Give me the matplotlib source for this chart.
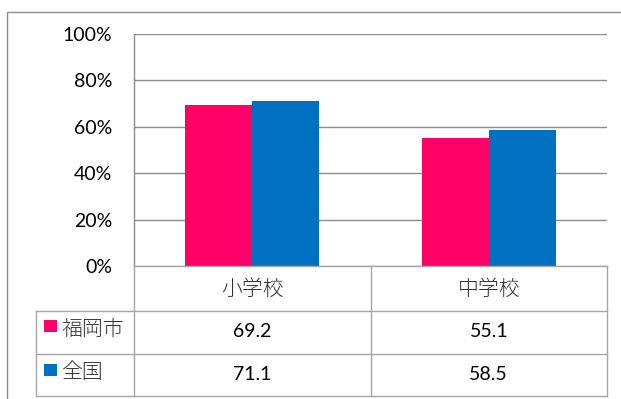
import matplotlib
matplotlib.use("Agg")
import matplotlib.pyplot as plt
from matplotlib.lines import Line2D
from matplotlib.patches import Rectangle
import numpy as np

categories = ["小学校", "中学校"]
series_names = ["福岡市", "全国"]
fukuoka = [69.2, 55.1]
national = [71.1, 58.5]
yticks = [0, 20, 40, 60, 80, 100]
ytick_labels = ["0%", "20%", "40%", "60%", "80%", "100%"]
colors = ["#FF0066", "#0070C0"]

W, H = 621, 399
fig = plt.figure(figsize=(W / 100, H / 100), dpi=100)
fig.patch.set_facecolor("white")

def fx(x):
    return x / W

def fy(y):
    return 1 - y / H

JP = ["Noto Sans CJK JP", "DejaVu Sans"]
NUM = ["Lato", "DejaVu Sans"]
grid_c = "#8C8C8C"
tbl_c = "#A6A6A6"
NUM_FS = 14
JP_FS = 15

# outer chart border
fig.add_artist(Rectangle((fx(7), fy(420)), fx(700), fy(12) - fy(420),
                         transform=fig.transFigure, fill=False,
                         edgecolor="#8C8C8C", linewidth=1.0))

L, R, T, B = 134, 607, 34, 266
ax = fig.add_axes([fx(L), fy(B), fx(R) - fx(L), fy(T) - fy(B)])
ax.set_xlim(-0.5, 1.5)
ax.set_ylim(0, 100)

bw = 0.283
x = np.arange(len(categories))
ax.bar(x - bw / 2, fukuoka, width=bw, color=colors[0], zorder=3)
ax.bar(x + bw / 2, national, width=bw, color=colors[1], zorder=3)

ax.set_yticks(yticks)
ax.set_yticklabels(ytick_labels, fontfamily=NUM, fontsize=NUM_FS, color="black")
ax.tick_params(axis="y", length=0, pad=15.8)
ax.set_xticks([])
ax.yaxis.grid(True, color=grid_c, linewidth=1.0, zorder=0)
for s in ["top", "right", "bottom"]:
    ax.spines[s].set_visible(False)
ax.spines["left"].set_color(grid_c)
ax.spines["left"].set_linewidth(1.0)

# data table
def hline(y, x0, x1):
    fig.add_artist(Line2D([fx(x0), fx(x1)], [fy(y), fy(y)],
                          transform=fig.transFigure, color=tbl_c, linewidth=1.0))

def vline(xp, y0, y1):
    fig.add_artist(Line2D([fx(xp), fx(xp)], [fy(y0), fy(y1)],
                          transform=fig.transFigure, color=tbl_c, linewidth=1.0))

hline(266, 134, 607)
hline(311, 36, 607)
hline(354, 36, 607)
hline(396, 36, 607)
col_x = [134, 370.5, 607]
for cx in col_x:
    vline(cx, 266, 396)
vline(36, 311, 396)

col_centers = [(col_x[i] + col_x[i + 1]) / 2 for i in range(len(categories))]
for c, cat in zip(col_centers, categories):
    fig.text(fx(c), fy(288.5), cat, ha="center", va="center",
             fontfamily=JP, fontsize=JP_FS, fontweight="light", color="#303030")

rows = [fukuoka, national]
row_num_y = [331.5, 374.5]
row_name_y = [328.5, 372.5]
row_sq_y = [326, 369.5]
for r, (name, vals, col) in enumerate(zip(series_names, rows, colors)):
    sy = row_sq_y[r]
    fig.add_artist(Rectangle((fx(44), fy(sy + 6)), fx(57) - fx(44),
                             fy(sy - 6) - fy(sy + 6),
                             transform=fig.transFigure, facecolor=col,
                             edgecolor="none"))
    fig.text(fx(62), fy(row_name_y[r]), name, ha="left", va="center",
             fontfamily=JP, fontsize=JP_FS, fontweight="light", color="#303030")
    for c, v in zip(col_centers, vals):
        fig.text(fx(c), fy(row_num_y[r]), f"{v:.1f}", ha="center", va="center",
                 fontfamily=NUM, fontsize=NUM_FS, color="black")

fig.savefig("out.png", dpi=100, facecolor="white")
